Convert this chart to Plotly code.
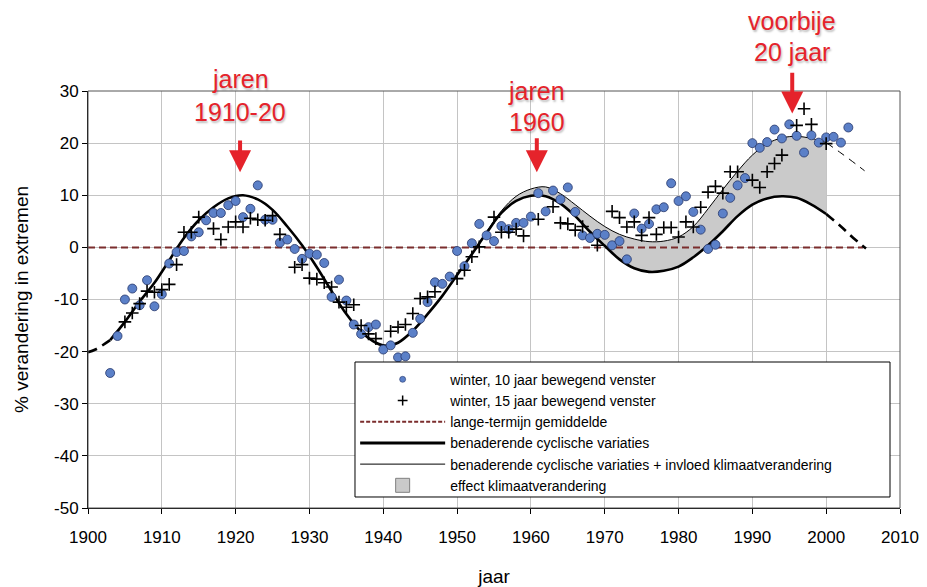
import plotly.graph_objects as go

# ---------------- data ----------------
blue_years = list(range(1903, 2004))
blue_vals = [-24.1, -17.0, -10.0, -7.9, -11.1, -6.3, -11.3, -9.0, -3.1, -0.9,
             -0.7, 2.1, 2.9, 5.2, 6.6, 6.6, 8.1, 8.9, 5.8, 7.4,
             11.9, 5.3, 5.3, 0.9, 1.5, -0.3, -2.2, -1.2, -1.4, -3.0,
             -9.5, -6.2, -10.2, -14.8, -16.6, -15.3, -14.8, -19.6, -18.8, -21.1,
             -20.9, -16.4, -13.7, -10.5, -6.7, -7.0, -5.6, -0.7, -3.6, 0.8,
             4.5, 2.3, 1.2, 4.1, 3.5, 4.7, 4.7, 5.9, 10.4, 6.9,
             10.9, 9.2, 11.5, 6.8, 2.3, 1.8, 2.6, 2.4, 0.4, 1.2,
             -2.3, 6.5, 3.6, 4.5, 7.3, 7.7, 12.3, 8.9, 9.8, 6.8,
             3.4, -0.3, 0.5, 6.5, 9.5, 11.9, 13.3, 20.0, 19.1, 20.2,
             22.6, 20.9, 23.6, 21.4, 18.2, 21.5, 20.1, 21.1, 21.2, 20.1,
             23.0]

plus_years = [1905, 1906, 1907, 1908, 1909, 1910, 1911, 1912, 1913, 1914,
              1915, 1917, 1918, 1919, 1920, 1921, 1922, 1923, 1924, 1925,
              1926, 1928, 1929, 1930, 1931, 1932, 1933, 1934, 1935, 1936,
              1937, 1938, 1939, 1941, 1942, 1943, 1944, 1945, 1946, 1947,
              1950, 1951, 1952, 1953, 1955, 1956, 1957, 1958, 1959, 1961,
              1963, 1964, 1965, 1966, 1967, 1969, 1971, 1972, 1973, 1974,
              1975, 1976, 1977, 1978, 1979, 1980, 1981, 1982, 1983, 1984,
              1985, 1986, 1987, 1988, 1990, 1991, 1992, 1993, 1994, 1996,
              1997, 1998, 2000]
plus_vals = [-14.3, -12.6, -10.8, -8.4, -8.6, -8.1, -7.1, -3.3, 2.9, 2.9,
             5.8, 3.6, 1.5, 3.9, 4.9, 3.9, 5.6, 5.3, 5.2, 6.1,
             2.5, -3.8, -3.3, -5.9, -6.1, -6.8, -7.6, -10.5, -11.5, -11.0,
             -15.0, -16.6, -17.5, -16.1, -15.3, -14.8, -12.7, -9.8, -9.5, -8.5,
             -6.0, -4.4, -1.8, 0.1, 5.8, 2.9, 2.9, 3.5, 2.2, 5.4,
             7.8, 4.7, 4.5, 3.3, 4.0, 0.4, 6.9, 5.7, 3.9, 4.9,
             2.3, 5.7, 2.5, 3.8, 3.8, 2.0, 4.9, 3.9, 7.7, 10.6,
             11.7, 10.4, 14.5, 14.5, 12.9, 11.5, 14.5, 16.1, 17.7, 23.4,
             26.6, 23.6, 19.9]

mean_years = [1900, 2005]
mean_vals = [0, 0]

cyc_years = [1900, 1901, 1903, 1905, 1907, 1909, 1911, 1913, 1915, 1917,
             1919, 1921, 1923, 1925, 1927, 1929, 1931, 1933, 1935, 1937,
             1939, 1940.5, 1942, 1944, 1946, 1948, 1950, 1952, 1954, 1956,
             1958, 1960, 1962, 1964, 1966, 1968, 1970, 1972, 1974, 1976,
             1978, 1980, 1982, 1984, 1986, 1988, 1990, 1992, 1994, 1996,
             1998, 2000, 2002, 2004, 2005.4]
cyc_vals = [-20.1, -19.6, -17.8, -14.3, -10.4, -6.8, -2.5, 1.8, 5.2, 7.7,
            9.4, 10.0, 9.2, 7.2, 4.0, 0.4, -3.8, -8.4, -12.8, -16.2,
            -18.3, -18.9, -18.3, -16.0, -12.8, -9.3, -5.3, -1.3, 2.8, 6.6,
            8.9, 9.9, 9.8, 8.4, 6.0, 3.0, 0.3, -2.3, -4.0, -4.7,
            -4.5, -3.7, -1.9, 0.4, 3.1, 6.0, 8.2, 9.4, 9.8, 9.5,
            8.2, 6.4, 4.0, 1.4, -0.2]

clim_years = [1950, 1952, 1954, 1956, 1958, 1960, 1962, 1964, 1966, 1968,
              1970, 1972, 1974, 1976, 1978, 1980, 1982, 1984, 1986, 1988,
              1990, 1992, 1994, 1996, 1998, 2000, 2002, 2004, 2005.2]
clim_vals = [-5.3, -1.2, 3.0, 7.0, 9.8, 11.2, 11.6, 10.3, 8.2, 6.0,
             4.0, 2.5, 1.6, 1.1, 1.2, 2.0, 4.0, 7.4, 11.1, 14.6,
             17.7, 19.9, 21.0, 21.3, 20.9, 20.1, 18.1, 16.0, 14.7]

legend_names = ["winter, 10 jaar bewegend venster",
                "winter, 15 jaar bewegend venster",
                "lange-termijn gemiddelde",
                "benaderende cyclische variaties",
                "benaderende cyclische variaties + invloed klimaatverandering",
                "effect klimaatverandering"]

x_ticks = list(range(1900, 2011, 10))
y_ticks = list(range(-50, 31, 10))
y_tick_labels = [str(v) for v in y_ticks]

# ---------------- helpers ----------------
def seg(xs, ys, lo, hi):
    px, py = [], []
    for a, b in zip(xs, ys):
        if lo <= a <= hi:
            px.append(a)
            py.append(b)
    return px, py

FONT = "Liberation Sans, Arial, sans-serif"
RED = "#e5232b"
BLUE = "#5b80c8"
BLUE_EDGE = "#27376b"
MEANC = "#7b2d2d"
FILLC = "#cacaca"

fig = go.Figure()

# fill between cyclic and climate curves (until 2000)
fb_x, fb_y = seg(cyc_years, cyc_vals, 1952, 2000)
ft_x, ft_y = seg(clim_years, clim_vals, 1952, 2000)
fig.add_trace(go.Scatter(x=fb_x, y=fb_y, mode="lines", line=dict(width=0, shape="spline"),
                         showlegend=False, hoverinfo="skip"))
fig.add_trace(go.Scatter(x=ft_x, y=ft_y, mode="lines", line=dict(width=0, shape="spline"),
                         fill="tonexty", fillcolor=FILLC, showlegend=False, hoverinfo="skip"))

# long-term mean
fig.add_trace(go.Scatter(x=mean_years, y=mean_vals, mode="lines",
                         line=dict(color=MEANC, width=2, dash="7px,4px"), showlegend=False))

# climate curve (thin)
cx, cy = seg(clim_years, clim_vals, 1950, 2000)
fig.add_trace(go.Scatter(x=cx, y=cy, mode="lines", line=dict(color="black", width=1, shape="spline"),
                         showlegend=False))
cx2, cy2 = seg(clim_years, clim_vals, 2000, 2010)
fig.add_trace(go.Scatter(x=cx2, y=cy2, mode="lines",
                         line=dict(color="black", width=1, shape="spline", dash="8px,6px"),
                         showlegend=False))

# cyclic curve (thick)
sx, sy = seg(cyc_years, cyc_vals, 1902.9, 2000)
fig.add_trace(go.Scatter(x=sx, y=sy, mode="lines", line=dict(color="black", width=2.6, shape="spline"),
                         showlegend=False))
for lo, hi in [(1899, 1903), (2000, 2010)]:
    dx, dy = seg(cyc_years, cyc_vals, lo, hi)
    fig.add_trace(go.Scatter(x=dx, y=dy, mode="lines",
                             line=dict(color="black", width=2.6, shape="spline", dash="10px,6px"),
                             showlegend=False))

# observations
fig.add_trace(go.Scatter(x=blue_years, y=blue_vals, mode="markers",
                         marker=dict(symbol="circle", size=9, color=BLUE,
                                     line=dict(color=BLUE_EDGE, width=0.8)),
                         showlegend=False))
fig.add_trace(go.Scatter(x=plus_years, y=plus_vals, mode="markers",
                         marker=dict(symbol="cross-thin", size=9,
                                     line=dict(color="black", width=1.6)),
                         showlegend=False))

# legend-only entries
leg = [
    dict(mode="markers", marker=dict(symbol="circle", size=6, color=BLUE,
                                     line=dict(color=BLUE_EDGE, width=0.6))),
    dict(mode="markers", marker=dict(symbol="cross-thin", size=7,
                                     line=dict(color="black", width=1.5))),
    dict(mode="lines", line=dict(color=MEANC, width=2, dash="4px,2px")),
    dict(mode="lines", line=dict(color="black", width=3)),
    dict(mode="lines", line=dict(color="black", width=1)),
    dict(mode="markers", marker=dict(symbol="square", size=14, color=FILLC,
                                     line=dict(color="#808080", width=1))),
]
for i, (name, kw) in enumerate(zip(legend_names, leg)):
    fig.add_trace(go.Scatter(x=[None], y=[None], name=name, legendrank=i + 1, **kw))

# annotations (red texts + arrows)
ann_font = dict(family=FONT, size=25, color=RED, shadow="1px 2px 2px rgba(0,0,0,0.25)")
texts = [
    (1920.6, 1.029, "jaren"), (1920.6, 0.950, "1910-20"),
    (1960.8, 0.999, "jaren"), (1960.8, 0.926, "1960"),
    (1995.4, 1.168, "voorbije"), (1995.4, 1.094, "20 jaar"),
]
for x, y, t in texts:
    fig.add_annotation(x=x, y=y, xref="x", yref="paper", text=t, showarrow=False,
                       font=ann_font, xanchor="center", yanchor="middle")
arrows = [(1920.6, 14.4, 20.8), (1960.8, 14.4, 21.2), (1995.4, 25.7, 33.8)]
for x, y_tip, y_tail in arrows:
    fig.add_annotation(x=x, y=y_tip, ax=x, ay=y_tail, axref="x", ayref="y",
                       text="", showarrow=True, arrowhead=2, arrowsize=1.1,
                       arrowwidth=4, arrowcolor=RED)

# plot frame
fig.add_shape(type="rect", xref="paper", yref="paper", x0=0, x1=1, y0=0, y1=1,
              line=dict(color="#555555", width=1), layer="above")
# legend box
fig.add_shape(type="rect", xref="paper", yref="paper", x0=0.3288, x1=0.9877, y0=0.0264, y1=0.3501,
              line=dict(color="black", width=1), fillcolor="white", layer="above")

fig.update_layout(
    width=927, height=587,
    margin=dict(l=88, r=27, t=91, b=79),
    paper_bgcolor="white", plot_bgcolor="white",
    font=dict(family=FONT, size=17, color="black"),
    showlegend=True,
    legend=dict(x=0.329, y=0.346, xanchor="left", yanchor="top",
                bgcolor="rgba(0,0,0,0)", borderwidth=0,
                font=dict(family=FONT, size=14, color="black"),
                itemwidth=85, tracegroupgap=0, traceorder="normal"),
    xaxis=dict(range=[1900, 2010], tickvals=x_ticks, ticks="outside", ticklen=5,
               tickcolor="black", showline=True, linecolor="black", linewidth=1,
               showgrid=True, gridcolor="#c4c4c4", gridwidth=1, zeroline=False,
               ticklabelstandoff=9, automargin=False,
               title=dict(text="jaar", font=dict(size=19), standoff=28),
               tickfont=dict(size=17)),
    yaxis=dict(range=[-50, 30], tickvals=y_ticks, ticktext=y_tick_labels,
               ticks="outside", ticklen=5, automargin=False,
               tickcolor="black", showline=True, linecolor="black", linewidth=1,
               showgrid=True, gridcolor="#c4c4c4", gridwidth=1, zeroline=False,
               title=dict(text="% verandering in extremen", font=dict(size=19), standoff=20),
               tickfont=dict(size=17)),
)

fig.write_html("out.html", config={"displayModeBar": False},
               post_script="document.body.style.margin='0px';")
